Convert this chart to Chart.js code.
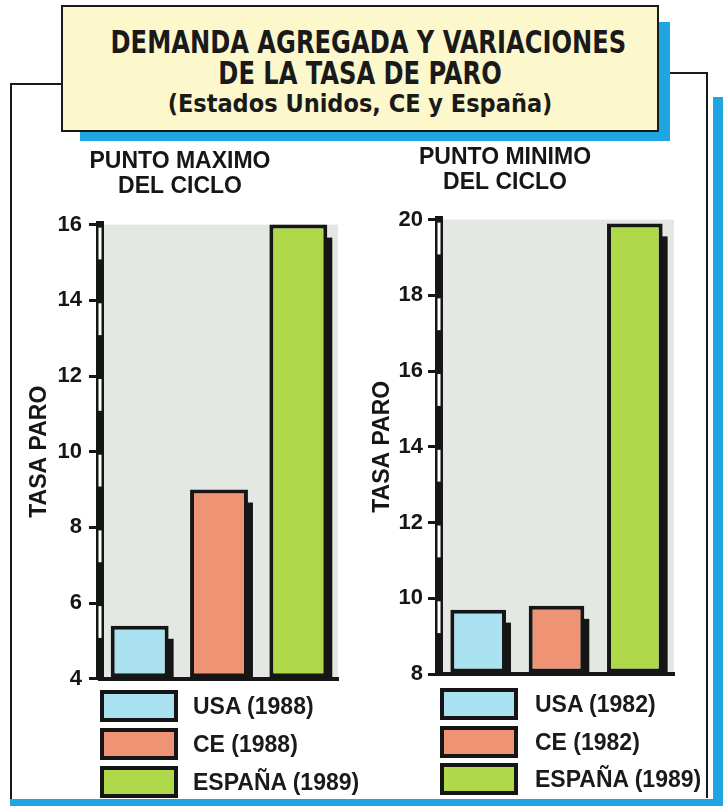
<!DOCTYPE html>
<html>
<head>
<meta charset="utf-8">
<script src="https://cdn.jsdelivr.net/npm/chart.js@4.4.1/dist/chart.umd.min.js"></script>
<style>
body { margin: 0; background: #fff; width: 723px; height: 806px; position: relative; overflow: hidden; font-family: "Liberation Sans", Arial, sans-serif; }
.abs { position: absolute; }
#sombraTitulo { left: 80px; top: 22px; width: 590px; height: 119px; background: #1ea5e2; }
#cajaTitulo { left: 61px; top: 5px; width: 594px; height: 123px; background: #fcf8cc; border: 2px solid #1a1a1a; }
.linTitulo { position: absolute; left: 0; width: 100%; text-align: center; font-family: "DejaVu Sans Condensed", "DejaVu Sans", sans-serif; font-weight: bold; color: #1a1a1a; white-space: nowrap; transform: scaleX(0.84); transform-origin: center; }
.legItem { position: absolute; height: 32px; }
.legCaja { position: absolute; left: 0; top: 0; width: 70px; height: 24px; border: 4px solid #151515; }
.legTexto { position: absolute; top: 2px; font-weight: bold; font-size: 23px; color: #1a1a1a; white-space: nowrap; line-height: 28px; }
</style>
</head>
<body>

<!-- marco exterior -->
<div class="abs" style="left:10px;top:83px;width:52px;height:2px;background:#1a1a1a"></div>
<div class="abs" style="left:10px;top:83px;width:2px;height:723px;background:#1a1a1a"></div>
<div class="abs" style="left:670px;top:72px;width:38px;height:2px;background:#1a1a1a"></div>
<div class="abs" style="left:706px;top:72px;width:2px;height:726px;background:#1a1a1a"></div>
<div class="abs" style="left:713px;top:97px;width:10px;height:709px;background:#1ea5e2"></div>
<div class="abs" style="left:10px;top:799px;width:713px;height:7px;background:#1ea5e2"></div>

<!-- titulo -->
<div id="sombraTitulo" class="abs"></div>
<div id="cajaTitulo" class="abs">
  <div class="linTitulo" style="top:16px;font-size:32px">DEMANDA AGREGADA Y VARIACIONES</div>
  <div class="linTitulo" style="top:47px;font-size:32px">DE LA TASA DE PARO</div>
  <div class="linTitulo" style="top:82px;font-size:25px;transform:none">(Estados Unidos, CE y España)</div>
</div>

<canvas id="graficoMaximo" class="abs" style="left:22px;top:135px" width="338" height="564"></canvas>
<canvas id="graficoMinimo" class="abs" style="left:336px;top:132px" width="347" height="562"></canvas>

<div id="leyendaMaximo"></div>
<div id="leyendaMinimo"></div>

<script>
// --- DATOS ---
const categoriasMaximo = ["USA (1988)", "CE (1988)", "ESPAÑA (1989)"];
const tasaParoMaximo = [5.4, 9.0, 16];
const categoriasMinimo = ["USA (1982)", "CE (1982)", "ESPAÑA (1989)"];
const tasaParoMinimo = [9.7, 9.8, 19.9];
const coloresPaises = ["#abe2f2", "#ee9474", "#afd94a"];
const ticksMaximo = { min: 4, max: 16, paso: 2 };
const ticksMinimo = { min: 8, max: 20, paso: 2 };

const NEGRO = "#161616";
const FUENTE = "'Liberation Sans', Arial, sans-serif";

// fondo gris del area del grafico
const fondoGris = {
    id: "fondoGris",
    beforeDraw(chart) {
        const { ctx, chartArea } = chart;
        ctx.save();
        ctx.fillStyle = "#e3e8e2";
        ctx.fillRect(chartArea.left, chartArea.top, chartArea.right - chartArea.left, chartArea.bottom - chartArea.top);
        ctx.restore();
    }
};

// sombra negra a la derecha de cada barra
const sombraBarras = {
    id: "sombraBarras",
    beforeDatasetsDraw(chart) {
        const ctx = chart.ctx;
        ctx.save();
        ctx.fillStyle = NEGRO;
        chart.getDatasetMeta(0).data.forEach(barra => {
            const xDer = barra.x + barra.width / 2;
            const yIni = barra.y + 13;
            ctx.fillRect(xDer - 1, yIni, 6, barra.base - yIni);
        });
        ctx.restore();
    }
};

// muescas blancas dentro del eje vertical
const muescasEje = {
    id: "muescasEje",
    afterDraw(chart) {
        const escala = chart.scales.y;
        const ctx = chart.ctx;
        const x = escala.right;
        ctx.save();
        ctx.strokeStyle = "#fff";
        ctx.lineWidth = 3;
        for (let i = 0; i < escala.ticks.length - 1; i++) {
            const y0 = escala.getPixelForValue(escala.ticks[i + 1].value);
            const y1 = escala.getPixelForValue(escala.ticks[i].value);
            ctx.beginPath();
            ctx.moveTo(x, y0 + 3);
            ctx.lineTo(x, y0 + (y1 - y0) * 0.46);
            ctx.stroke();
        }
        ctx.restore();
    }
};

function crearGrafico(idCanvas, titulo, categorias, valores, rango, opts) {
    const ctx = document.getElementById(idCanvas).getContext("2d");
    return new Chart(ctx, {
        type: "bar",
        data: {
            labels: categorias,
            datasets: [{
                data: valores,
                base: rango.min,
                backgroundColor: coloresPaises,
                borderColor: NEGRO,
                borderWidth: 4,
                borderSkipped: false,
                categoryPercentage: 1,
                barPercentage: opts.barPct,
                clip: false
            }]
        },
        options: {
            responsive: false,
            animation: false,
            layout: { padding: { left: 0, right: opts.padDer, top: 0, bottom: 12 } },
            plugins: {
                legend: { display: false },
                tooltip: { enabled: false },
                title: {
                    display: true,
                    text: titulo,
                    color: NEGRO,
                    font: { family: FUENTE, size: 23, weight: "bold", lineHeight: 1.1 },
                    padding: { top: opts.tituloArriba, bottom: opts.tituloAbajo }
                }
            },
            scales: {
                x: {
                    ticks: { display: false },
                    grid: { display: false },
                    border: { display: true, color: NEGRO, width: 4 }
                },
                y: {
                    min: rango.min,
                    max: rango.max,
                    afterFit: escala => { escala.width = opts.anchoEje; },
                    ticks: {
                        stepSize: rango.paso,
                        color: NEGRO,
                        padding: opts.padTicks,
                        font: { family: FUENTE, size: 22, weight: "bold" }
                    },
                    grid: { drawOnChartArea: false, drawTicks: true, tickLength: 11, color: NEGRO, lineWidth: 3 },
                    border: { display: true, color: NEGRO, width: 8 },
                    title: {
                        display: true,
                        text: "TASA PARO",
                        color: NEGRO,
                        font: { family: FUENTE, size: 23, weight: "bold", lineHeight: 1.2 },
                        padding: { top: opts.padTituloY, bottom: 0 }
                    }
                }
            }
        },
        plugins: [fondoGris, sombraBarras, muescasEje]
    });
}

function crearLeyenda(idDiv, categorias, x, xTexto, tops) {
    const cont = document.getElementById(idDiv);
    categorias.forEach((cat, i) => {
        const item = document.createElement("div");
        item.className = "legItem";
        item.style.left = x + "px";
        item.style.top = tops[i] + "px";
        item.innerHTML = `<div class="legCaja" style="background:${coloresPaises[i]}"></div>` +
            `<div class="legTexto" style="left:${xTexto - x}px">${cat}</div>`;
        cont.appendChild(item);
    });
}

crearGrafico("graficoMaximo", ["PUNTO MAXIMO", "DEL CICLO"], categoriasMaximo, tasaParoMaximo, ticksMaximo,
    { barPct: 0.73, padDer: 22, anchoEje: 78, padTicks: 7, padTituloY: 4, tituloArriba: 14, tituloAbajo: 25 });
crearGrafico("graficoMinimo", ["PUNTO MINIMO", "DEL CICLO"], categoriasMinimo, tasaParoMinimo, ticksMinimo,
    { barPct: 0.71, padDer: 9, anchoEje: 103, padTicks: 5, padTituloY: 33, tituloArriba: 13, tituloAbajo: 24 });

crearLeyenda("leyendaMaximo", categoriasMaximo, 100, 193, [690, 728, 766]);
crearLeyenda("leyendaMinimo", categoriasMinimo, 440, 535, [688, 726, 763]);
</script>
</body>
</html>
